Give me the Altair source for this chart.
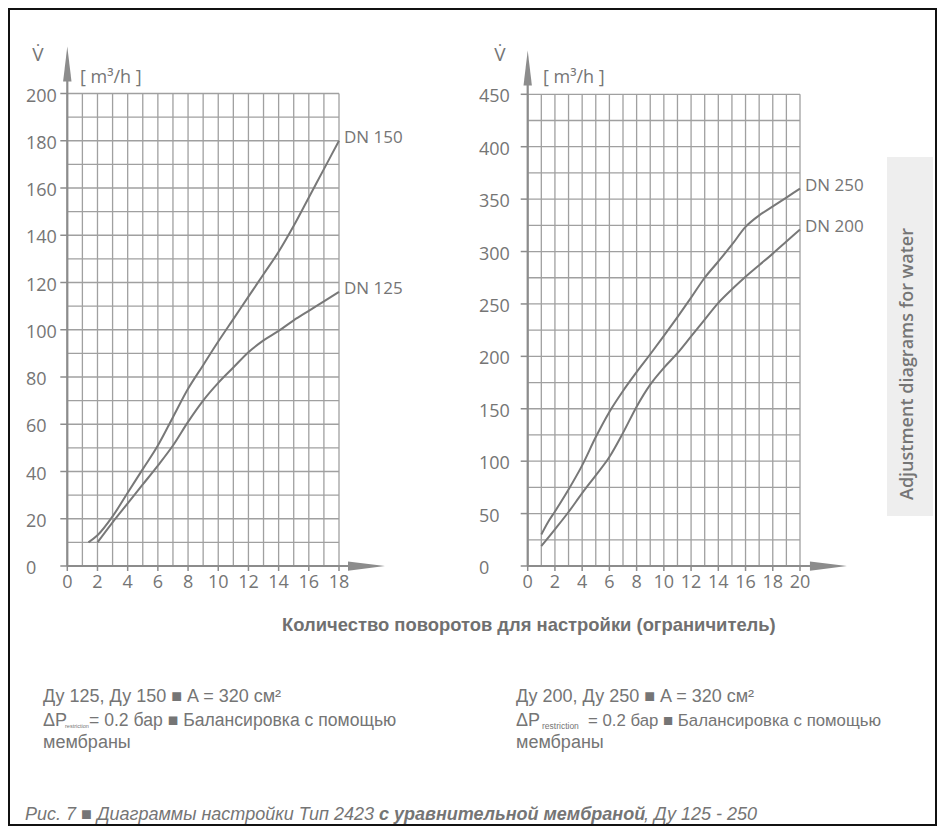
import altair as alt
import pandas as pd

# ---------------- data ----------------
L_X_TICKS = [0, 2, 4, 6, 8, 10, 12, 14, 16, 18]
L_Y_TICKS = [0, 20, 40, 60, 80, 100, 120, 140, 160, 180, 200]
R_X_TICKS = [0, 2, 4, 6, 8, 10, 12, 14, 16, 18, 20]
R_Y_TICKS = [0, 50, 100, 150, 200, 250, 300, 350, 400, 450]

L_GRID_X = list(range(0, 19))
L_GRID_Y = list(range(0, 201, 10))
R_GRID_X = list(range(0, 21))
R_GRID_Y = list(range(0, 451, 25))

DN150_X = [1.4, 2, 3, 4, 5, 6, 7, 8, 9, 10, 11, 12, 13, 14, 15, 16, 17, 18]
DN150_Y = [10, 13, 21, 31, 41, 51, 63, 75, 85, 95, 104.5, 114, 123.5, 133, 144, 156, 168, 180]
DN125_X = [2, 3, 4, 5, 6, 7, 8, 9, 10, 11, 12, 13, 14, 15, 16, 17, 18]
DN125_Y = [10, 18.5, 26.5, 34.5, 42.5, 51, 61, 70, 77.5, 84, 90.5, 95.5, 99.5, 104, 108, 112, 116]

DN250_X = [1, 1.5, 2, 3, 4, 5, 6, 7, 8, 9, 10, 11, 12, 13, 14, 15, 16, 17, 18, 19, 20]
DN250_Y = [30, 42, 52, 73, 96, 123, 147, 167, 185, 202, 219.5, 237.5, 256, 275, 290.5, 306.5, 323.5, 334.5, 343, 351.5, 360]
DN200_X = [1, 2, 3, 4, 5, 6, 7, 8, 9, 10, 11, 12, 13, 14, 15, 16, 17, 18, 19, 20]
DN200_Y = [19, 35, 51.5, 69.5, 86.5, 104, 127, 152, 173, 189, 203, 219, 235, 251, 264, 276, 287, 298, 309.5, 321]

LEFT_SERIES = ["DN 150", "DN 125"]
RIGHT_SERIES = ["DN 250", "DN 200"]

AXIS_TITLE = "Количество поворотов для настройки (ограничитель)"
UNIT = "[ m³/h ]"
VDOT = "V\u0307"
SIDE_LABEL = "Adjustment diagrams for water"
FOOT_L1 = "Ду 125, Ду 150 ■ A = 320 см²"
FOOT_R1 = "Ду 200, Ду 250 ■ A = 320 см²"
FOOT_DP = "ΔP"
FOOT_SUB = "restriction"
FOOT_L2 = "= 0.2 бар ■ Балансировка с помощью"
FOOT_R2 = "= 0.2 бар ■ Балансировка с помощью"
FOOT_3 = "мембраны"
CAP_1 = "Рис. 7 ■ Диаграммы настройки Тип 2423 "
CAP_2 = "с уравнительной мембраной"
CAP_3 = ", Ду 125 - 250"

# ---------------- style ----------------
W, H = 929, 818
GRID = "#a0a0a0"
AXC = "#8c8c8c"
CURVE = "#787878"
TXT = "#757575"
FONT = "Open Sans"
ARIAL = "Liberation Sans"


def txt(s, x, y, size, font=ARIAL, color=TXT, **kw):
    return alt.Chart(pd.DataFrame({"t": [s]})).mark_text(
        align=kw.pop("align", "left"), baseline=kw.pop("baseline", "middle"),
        fontSize=size, font=font, color=color, **kw
    ).encode(x=alt.value(x), y=alt.value(y), text="t:N")


def panel(xdom, ydom, xrng, yrng, gx, gy, xt, yt, series, ylab_x, yarrow_c, xarrow_c,
          yshaft, xshaft):
    xs = alt.Scale(domain=xdom, range=xrng, nice=False, zero=False)
    ys = alt.Scale(domain=ydom, range=yrng, nice=False, zero=False)
    X = lambda f: alt.X(f, scale=xs, axis=None)
    Y = lambda f: alt.Y(f, scale=ys, axis=None)
    layers = []
    vdf = pd.DataFrame({"x": gx, "y0": ydom[0], "y1": ydom[1]})
    layers.append(alt.Chart(vdf).mark_rule(color=GRID, strokeWidth=1.3).encode(
        x=X("x:Q"), y=Y("y0:Q"), y2="y1:Q"))
    hdf = pd.DataFrame({"y": gy, "x0": xdom[0], "x1": xdom[1]})
    layers.append(alt.Chart(hdf).mark_rule(color=GRID, strokeWidth=1.3).encode(
        y=Y("y:Q"), x=X("x0:Q"), x2="x1:Q"))
    # axis shafts
    layers.append(alt.Chart(pd.DataFrame({"x": [0], "y0": [0], "y1": [yshaft]})).mark_rule(
        color=AXC, strokeWidth=2.2).encode(x=X("x:Q"), y=Y("y0:Q"), y2="y1:Q"))
    layers.append(alt.Chart(pd.DataFrame({"y": [0], "x0": [0], "x1": [xshaft]})).mark_rule(
        color=AXC, strokeWidth=2.2).encode(y=Y("y:Q"), x=X("x0:Q"), x2="x1:Q"))
    # arrowheads
    layers.append(alt.Chart(pd.DataFrame({"x": [0], "y": [yarrow_c]})).mark_point(
        shape="M0,-1L-0.24,1L0.24,1Z", size=1225, filled=True, color=AXC, opacity=1).encode(
        x=X("x:Q"), y=Y("y:Q")))
    layers.append(alt.Chart(pd.DataFrame({"x": [xarrow_c], "y": [0]})).mark_point(
        shape="M1,0L-1,-0.25L-1,0.25Z", size=1369, filled=True, color=AXC, opacity=1).encode(
        x=X("x:Q"), y=Y("y:Q")))
    # ticks
    layers.append(alt.Chart(pd.DataFrame({"x": xt})).mark_rule(color=AXC, strokeWidth=1.5).encode(
        x=X("x:Q"), y=alt.value(yrng[0]), y2=alt.value(yrng[0] + 5)))
    layers.append(alt.Chart(pd.DataFrame({"y": yt})).mark_rule(color=AXC, strokeWidth=1.5).encode(
        y=Y("y:Q"), x=alt.value(xrng[0] - 7), x2=alt.value(xrng[0])))
    # tick labels
    layers.append(alt.Chart(pd.DataFrame({"x": xt})).mark_text(
        font=FONT, fontSize=18, color=TXT, baseline="middle", align="center").encode(
        x=X("x:Q"), y=alt.value(yrng[0] + 17), text="x:N"))
    layers.append(alt.Chart(pd.DataFrame({"y": yt})).mark_text(
        font=FONT, fontSize=18, color=TXT, baseline="middle", align="left", dy=3).encode(
        y=Y("y:Q"), x=alt.value(ylab_x), text="y:N"))
    # curves
    rows = []
    ends = []
    for name, xv, yv in series:
        for a, b in zip(xv, yv):
            rows.append({"s": name, "x": a, "y": b})
        ends.append({"s": name, "x": xv[-1], "y": yv[-1]})
    layers.append(alt.Chart(pd.DataFrame(rows)).mark_line(
        color=CURVE, strokeWidth=2, interpolate="monotone").encode(
        x=X("x:Q"), y=Y("y:Q"), detail="s:N"))
    layers.append(alt.Chart(pd.DataFrame(ends)).mark_text(
        font=FONT, fontSize=17, color=TXT, align="left", baseline="middle", dx=5, dy=-3).encode(
        x=X("x:Q"), y=Y("y:Q"), text="s:N"))
    return layers


left = panel([0, 18], [0, 200], [59.3, 331], [558, 85.5], L_GRID_X, L_GRID_Y,
             L_X_TICKS, L_Y_TICKS,
             [(LEFT_SERIES[0], DN150_X, DN150_Y), (LEFT_SERIES[1], DN125_X, DN125_Y)],
             18, 212.5, 19.82, 207, 18.9)
right = panel([0, 20], [0, 450], [519.7, 792], [558, 86.3], R_GRID_X, R_GRID_Y,
              R_X_TICKS, R_Y_TICKS,
              [(RIGHT_SERIES[0], DN250_X, DN250_Y), (RIGHT_SERIES[1], DN200_X, DN200_Y)],
              471, 475, 22.09, 462, 21.0)

extras = [
    txt(VDOT, 30, 47, 19, font=FONT, align="center"),
    txt(VDOT, 492, 47, 19, font=FONT, align="center"),
    txt(UNIT, 72, 70, 18, font=FONT),
    txt(UNIT, 535, 70, 18, font=FONT),
    alt.Chart(pd.DataFrame({"t": [SIDE_LABEL]})).mark_rect(color="#eeeeee").encode(
        x=alt.value(879), x2=alt.value(925), y=alt.value(149), y2=alt.value(508)),
    txt(SIDE_LABEL, 900, 356, 18, font=FONT, align="center", angle=270, fontWeight=600),
    txt(AXIS_TITLE, 274, 617, 18.4, fontWeight="bold", color="#707070"),
    txt(FOOT_L1, 35, 689, 18),
    txt(FOOT_DP, 35, 713, 18),
    txt(FOOT_SUB, 57, 718, 5.5),
    txt(FOOT_L2, 81, 713, 17.6),
    txt(FOOT_3, 35, 735, 18),
    txt(FOOT_R1, 508, 689, 18),
    txt(FOOT_DP, 508, 713, 18),
    txt(FOOT_SUB, 534, 718, 8.5),
    txt(FOOT_R2, 580, 713, 16.8),
    txt(FOOT_3, 508, 735, 18),
    txt(CAP_1, 17, 807, 18, fontStyle="italic"),
    txt(CAP_2, 371, 807, 18, fontStyle="italic", fontWeight="bold"),
    txt(CAP_3, 636, 807, 18, fontStyle="italic"),
    alt.Chart(pd.DataFrame({"t": [""]})).mark_rect(fill=None, stroke="#111111", strokeWidth=2).encode(
        x=alt.value(1), x2=alt.value(W - 1), y=alt.value(1), y2=alt.value(H - 1)),
]

chart = alt.layer(*left, *right, *extras).resolve_scale(
    x="independent", y="independent"
).properties(
    width=W, height=H, autosize=alt.AutoSizeParams(type="none"), padding=0,
    background="white"
).configure_view(stroke=None)

chart.save("out.html", embed_options={"renderer": "svg", "actions": False})
